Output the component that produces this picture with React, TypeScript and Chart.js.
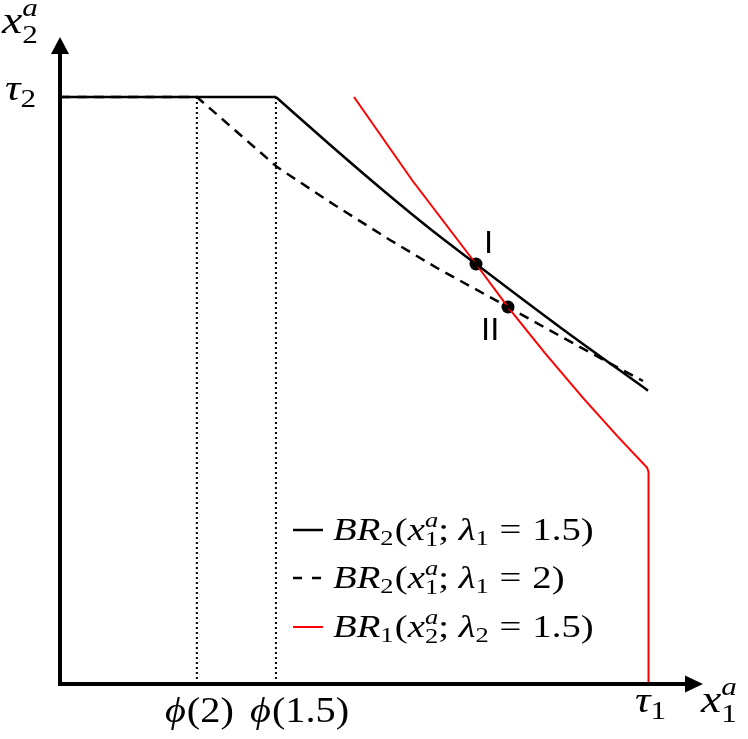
import React, { useEffect, useRef } from "react";
import { Chart, registerables } from "chart.js";

Chart.register(...registerables);

// BR2(x1; lambda1 = 1.5) — solid black (flat part, then decreasing part)
const solidFlatX = [0, 0.366];
const solidFlatY = [1, 1];
const solidX = [0.366, 0.4576, 0.5424, 0.6271, 0.7051, 0.8475, 0.9966];
const solidY = [1, 0.9187, 0.8455, 0.7756, 0.7155, 0.6078, 0.4998];
// BR2(x1; lambda1 = 2) — dashed black
const dashX = [0, 0.232, 0.300, 0.368, 0.4627, 0.5593, 0.639, 0.7593, 0.8475, 0.9153, 0.9881];
const dashY = [1, 1, 0.9404, 0.8807, 0.8177, 0.7564, 0.7087, 0.6422, 0.5928, 0.5554, 0.5162];
// BR1(x2; lambda2 = 1.5) — red
const redX = [0.4983, 0.5966, 0.7051, 0.7593, 0.822, 0.8864, 0.9458, 0.9949, 0.9975, 0.9975];
const redY = [1, 0.8586, 0.7155, 0.6422, 0.5635, 0.4874, 0.4209, 0.3688, 0.3612, 0];
// equilibria I and II
const eqX = [0.7051, 0.7593];
const eqY = [0.7155, 0.6422];
const eqLabels = ["I", "II"];
// tick positions
const phiLabels = ["2", "1.5"];
const phiX = [0.232, 0.366];
const tau1 = 1;
const tau2 = 1;

const FONT = '"Liberation Serif", "DejaVu Serif", serif';

type Run = { t: string; it?: boolean; size: number; dy?: number; stack?: boolean; gap?: number };

function drawRuns(ctx: CanvasRenderingContext2D, x: number, y: number, runs: Run[], sx = 1) {
  ctx.save();
  ctx.translate(x, y);
  ctx.scale(sx, 1);
  let cx = 0;
  for (const r of runs) {
    ctx.font = `${r.it ? "italic " : ""}${r.size}px ${FONT}`;
    ctx.fillText(r.t, cx, r.dy || 0);
    const w = ctx.measureText(r.t).width;
    if (!r.stack) cx += w + (r.gap || 0);
  }
  ctx.restore();
  return x + cx * sx;
}

const toPts = (xs: number[], ys: number[]) => xs.map((x, i) => ({ x, y: ys[i] }));

export default function App() {
  const ref = useRef<HTMLCanvasElement>(null);
  useEffect(() => {
    const canvas = ref.current!;
    const overlay = {
      id: "overlay",
      afterDatasetsDraw(chart: any) {
        const ctx: CanvasRenderingContext2D = chart.ctx;
        const xs = chart.scales.x;
        const ys = chart.scales.y;
        const x0 = xs.getPixelForValue(0);
        const y0 = ys.getPixelForValue(0);
        ctx.save();
        ctx.fillStyle = "#000";
        ctx.strokeStyle = "#000";
        // axes
        ctx.lineWidth = 4;
        ctx.beginPath();
        ctx.moveTo(x0, y0 + 2);
        ctx.lineTo(x0, 52);
        ctx.moveTo(x0 - 2, y0);
        ctx.lineTo(686, y0);
        ctx.stroke();
        // arrows
        ctx.beginPath();
        ctx.moveTo(x0, 37);
        ctx.lineTo(x0 - 9, 54);
        ctx.lineTo(x0 + 9, 54);
        ctx.closePath();
        ctx.fill();
        ctx.beginPath();
        ctx.moveTo(703, y0);
        ctx.lineTo(685, y0 - 8.5);
        ctx.lineTo(685, y0 + 8.5);
        ctx.closePath();
        ctx.fill();

        ctx.textBaseline = "alphabetic";
        ctx.textAlign = "left";
        // axis titles
        drawRuns(ctx, 2, 33, [
          { t: "x", it: true, size: 38 },
          { t: "a", it: true, size: 26, dy: -17, stack: true },
          { t: "2", size: 26, dy: 10 },
        ], 1.2);
        drawRuns(ctx, 701, 712, [
          { t: "x", it: true, size: 38 },
          { t: "a", it: true, size: 26, dy: -17, stack: true },
          { t: "1", size: 26, dy: 10 },
        ], 1.2);
        // tau labels
        drawRuns(ctx, 5, ys.getPixelForValue(tau2) + 3, [
          { t: "τ", it: true, size: 36 },
          { t: "2", size: 26, dy: 7 },
        ], 1.2);
        drawRuns(ctx, xs.getPixelForValue(tau1) - 15, 712, [
          { t: "τ", it: true, size: 36 },
          { t: "1", size: 26, dy: 7 },
        ], 1.2);
        // phi labels
        const phiStart = [xs.getPixelForValue(phiX[0]) - 32, xs.getPixelForValue(phiX[1]) - 26];
        phiLabels.forEach((lab, i) => {
          drawRuns(ctx, phiStart[i], 722, [
            { t: "ϕ", it: true, size: 36, gap: 1 },
            { t: "(" + lab + ")", size: 36 },
          ], 1.12);
        });
        // equilibrium labels
        ctx.font = '31px "DejaVu Sans", sans-serif';
        ctx.fillText(eqLabels[0], xs.getPixelForValue(eqX[0]) + 8, ys.getPixelForValue(eqY[0]) - 11);
        ctx.fillText(eqLabels[1], xs.getPixelForValue(eqX[1]) - 27, ys.getPixelForValue(eqY[1]) + 33);

        // legend
        const rows = [
          { color: "#000", dash: [] as number[], lam: "1", sub: "2", xv: "1", val: "1.5" },
          { color: "#000", dash: [9, 10], lam: "1", sub: "2", xv: "1", val: "2" },
          { color: "#ff0000", dash: [] as number[], lam: "2", sub: "1", xv: "2", val: "1.5" },
        ];
        const lineY = [530, 578, 627];
        rows.forEach((r, i) => {
          ctx.save();
          ctx.strokeStyle = r.color;
          ctx.lineWidth = i === 2 ? 2 : 2.5;
          ctx.setLineDash(r.dash);
          ctx.beginPath();
          ctx.moveTo(293, lineY[i]);
          ctx.lineTo(323, lineY[i]);
          ctx.stroke();
          ctx.restore();
          ctx.fillStyle = "#000";
          const by = lineY[i] + 10;
          drawRuns(ctx, 333, by, [
            { t: "B", it: true, size: 32 },
            { t: "R", it: true, size: 32 },
            { t: r.sub, size: 22, dy: 5, gap: 1 },
            { t: "(", size: 32 },
            { t: "x", it: true, size: 32 },
            { t: "a", it: true, size: 22, dy: -13, stack: true },
            { t: r.xv, size: 22, dy: 6 },
            { t: ";", size: 32, gap: 8 },
            { t: "λ", it: true, size: 32 },
            { t: r.lam, size: 22, dy: 5, gap: 9 },
            { t: "=", size: 32, gap: 9 },
            { t: r.val, size: 32 },
            { t: ")", size: 32 },
          ], 1.21);
        });
        ctx.restore();
      },
    };

    const dotted = {
      showLine: true,
      borderColor: "#000",
      borderWidth: 2,
      borderDash: [2, 3],
      pointRadius: 0,
    };

    const chart = new Chart(canvas, {
      type: "scatter",
      data: {
        datasets: [
          { ...dotted, data: toPts([phiX[0], phiX[0]], [0, tau2]) },
          { ...dotted, data: toPts([phiX[1], phiX[1]], [0, tau2]) },
          {
            data: toPts(dashX, dashY),
            showLine: true,
            borderColor: "#000",
            borderWidth: 2.5,
            borderDash: [10, 7],
            pointRadius: 0,
          },
          {
            data: toPts(solidFlatX, solidFlatY),
            showLine: true,
            borderColor: "#000",
            borderWidth: 2.5,
            pointRadius: 0,
          },
          {
            data: toPts(solidX, solidY),
            showLine: true,
            borderColor: "#000",
            borderWidth: 2.5,
            pointRadius: 0,
            cubicInterpolationMode: "monotone",
          },
          {
            data: toPts(redX, redY),
            showLine: true,
            borderColor: "#ff0000",
            borderWidth: 2,
            pointRadius: 0,
          },
          {
            data: toPts(eqX, eqY),
            showLine: false,
            pointRadius: 6.5,
            pointBackgroundColor: "#000",
            pointBorderColor: "#000",
            borderWidth: 0,
          },
        ],
      },
      options: {
        responsive: false,
        animation: false,
        devicePixelRatio: 1,
        clip: false as any,
        layout: { padding: { left: 60, right: 98, top: 97, bottom: 55 } },
        plugins: { legend: { display: false }, tooltip: { enabled: false } },
        elements: { line: { tension: 0 } },
        scales: {
          x: { type: "linear", min: 0, max: 1, display: false },
          y: { type: "linear", min: 0, max: 1, display: false },
        },
      },
      plugins: [overlay],
    });
    return () => chart.destroy();
  }, []);

  return (
    <div style={{ position: "absolute", left: 0, top: 0, width: 748, height: 739, background: "#fff" }}>
      <canvas ref={ref} width={748} height={739} style={{ display: "block" }} />
    </div>
  );
}
